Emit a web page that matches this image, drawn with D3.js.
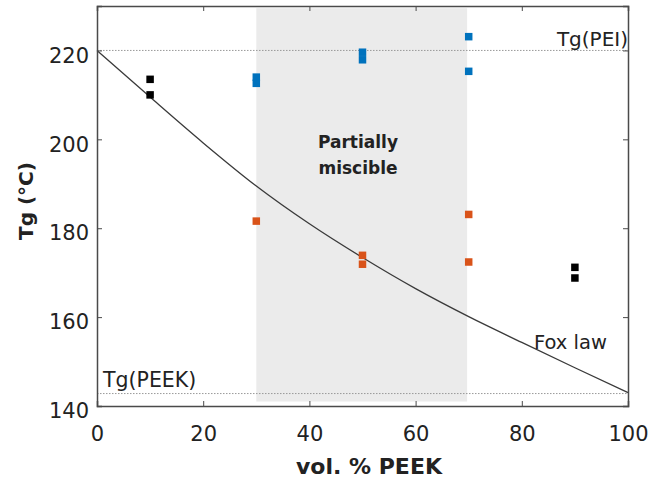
<!DOCTYPE html>
<html><head><meta charset="utf-8">
<script src="https://cdn.jsdelivr.net/npm/d3@7"></script>
<style>
html,body{margin:0;padding:0;background:#fff;}
svg{display:block;font-family:"DejaVu Sans",sans-serif;}
</style></head>
<body>
<svg id="c" width="648" height="484"></svg>
<script>
// Data
const xTicks = [0, 20, 40, 60, 80, 100];
const yTicks = [140, 160, 180, 200, 220];
const blackX = [10, 10, 90, 90];
const blackY = [213.5, 210.0, 171.2, 168.8];
const blueX = [30, 30, 50, 50, 70, 70];
const blueY = [214.0, 212.6, 219.6, 217.9, 223.1, 215.3];
const orangeX = [30, 50, 50, 70, 70];
const orangeY = [181.6, 173.9, 171.9, 183.1, 172.4];
const foxX = [0, 10, 20, 30, 40, 50, 60, 70, 80, 90, 100];
const foxY = [220, 209.5, 199.2, 189.5, 181.0, 173.4, 166.4, 160.1, 154.3, 148.6, 143];
const tgPEI = 220;
const tgPEEK = 142.8;
const shadeX = [30, 69.7];
const shadeY = [141, 229.5];

const W = 648, H = 484;
const m = {left: 97, right: 20, top: 6, bottom: 78};
const svg = d3.select("#c");
const x = d3.scaleLinear().domain([0, 100]).range([m.left, W - m.right]);
const y = d3.scaleLinear().domain([140, 230]).range([H - m.bottom, m.top]);
const axisCol = "#4a4a4a";
const txtCol = "#222";

// shaded region
svg.append("rect")
  .attr("x", x(shadeX[0])).attr("y", y(shadeY[1]))
  .attr("width", x(shadeX[1]) - x(shadeX[0]))
  .attr("height", y(shadeY[0]) - y(shadeY[1]))
  .attr("fill", "#ebebeb");

// dotted reference lines
[tgPEI, tgPEEK].forEach(v => {
  svg.append("line")
    .attr("x1", x(0)).attr("x2", x(100))
    .attr("y1", y(v)).attr("y2", y(v))
    .attr("stroke", "#9a9a9a").attr("stroke-width", 1)
    .attr("stroke-dasharray", "1.5,1.5");
});

// Fox law curve
const foxData = foxX.map((d, i) => [d, foxY[i]]);
svg.append("path")
  .datum(foxData)
  .attr("d", d3.line().x(d => x(d[0])).y(d => y(d[1])).curve(d3.curveMonotoneX))
  .attr("fill", "none").attr("stroke", "#3a3a3a").attr("stroke-width", 1.3);

// markers
function markers(xs, ys, col) {
  const s = 7.5;
  svg.append("g").selectAll("rect").data(xs.map((d, i) => [d, ys[i]])).join("rect")
    .attr("x", d => x(d[0]) - s / 2).attr("y", d => y(d[1]) - s / 2)
    .attr("width", s).attr("height", s).attr("fill", col);
}
markers(blackX, blackY, "#000000");
markers(blueX, blueY, "#0072BD");
markers(orangeX, orangeY, "#D95319");

// axes
const gx = svg.append("g").attr("transform", `translate(0,${y(140)})`)
  .call(d3.axisBottom(x).tickValues(xTicks).tickSize(-5));
const gxt = svg.append("g").attr("transform", `translate(0,${y(230)})`)
  .call(d3.axisTop(x).tickValues(xTicks).tickSize(-5).tickFormat(""));
const gy = svg.append("g").attr("transform", `translate(${x(0)},0)`)
  .call(d3.axisLeft(y).tickValues(yTicks).tickSize(-5).tickPadding(8));
const gyr = svg.append("g").attr("transform", `translate(${x(100)},0)`)
  .call(d3.axisRight(y).tickValues(yTicks).tickSize(-5).tickFormat(""));
[gx, gxt, gy, gyr].forEach(g => {
  g.select(".domain").attr("stroke", axisCol).attr("stroke-width", 1.5);
  g.selectAll(".tick line").attr("stroke", axisCol).attr("stroke-width", 1);
  g.selectAll("text").attr("fill", txtCol).style("font-size", "21px")
    .style("font-family", "'DejaVu Sans',sans-serif");
});
gx.selectAll(".tick text").attr("y", 35).attr("dy", "0");
gy.selectAll(".tick text").attr("y", 5).attr("dy", "0.32em");

// axis titles
svg.append("text").attr("x", 369).attr("y", 474)
  .attr("text-anchor", "middle").attr("font-weight", "bold").attr("font-size", "22px")
  .attr("fill", txtCol).text("vol. % PEEK");
svg.append("text").attr("transform", `translate(33,${201}) rotate(-90)`)
  .attr("text-anchor", "middle").attr("font-weight", "bold").attr("font-size", "20px")
  .attr("fill", txtCol).text("Tg (°C)");

// annotations
svg.append("text").attr("x", 628).attr("y", 45.5)
  .attr("text-anchor", "end").attr("font-size", "20px").attr("fill", txtCol).text("Tg(PEI)");
svg.append("text").attr("x", 103).attr("y", 387)
  .attr("font-size", "20.5px").attr("fill", txtCol).text("Tg(PEEK)");
svg.append("text").attr("x", 534).attr("y", 349)
  .attr("font-size", "19.5px").attr("fill", txtCol).text("Fox law");
const pm = svg.append("text").attr("text-anchor", "middle").attr("font-weight", "bold")
  .attr("font-size", "17px").attr("fill", txtCol);
pm.append("tspan").attr("x", 358).attr("y", 148).text("Partially");
pm.append("tspan").attr("x", 358).attr("y", 174).text("miscible");
</script>
</body></html>
